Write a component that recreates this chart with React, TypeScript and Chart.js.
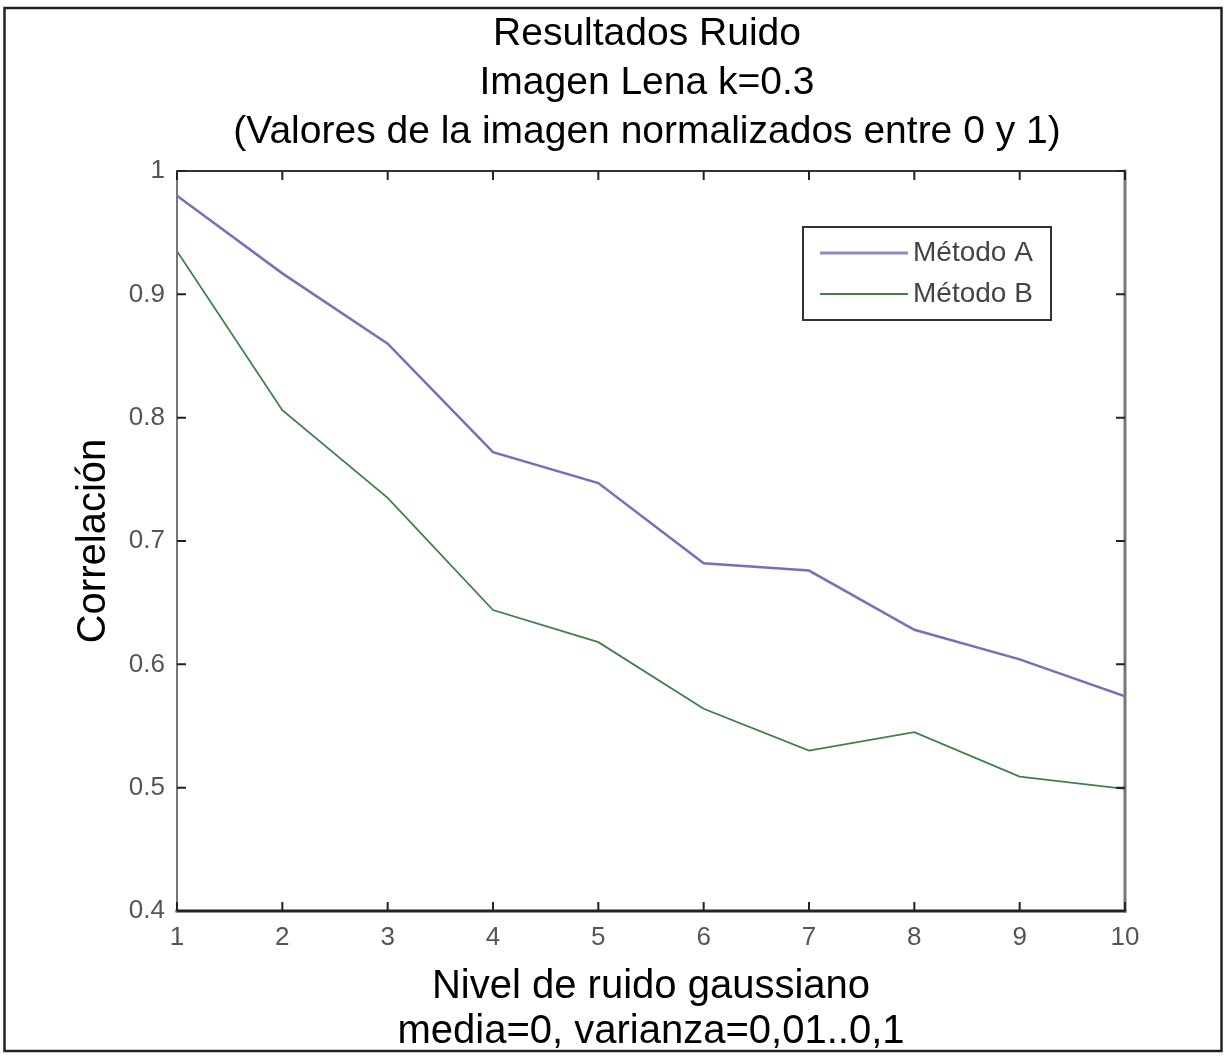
import React, { useEffect, useRef } from 'react';
import { Chart, registerables } from 'chart.js';

Chart.register(...registerables);

const noiseLevels = [1, 2, 3, 4, 5, 6, 7, 8, 9, 10];
const metodoA = [0.98, 0.917, 0.86, 0.772, 0.747, 0.682, 0.676, 0.628, 0.604, 0.574];
const metodoB = [0.935, 0.806, 0.735, 0.644, 0.618, 0.564, 0.53, 0.545, 0.509, 0.499];
const seriesNames = ['Método A', 'Método B'];
const seriesColors = ['#7272ba', '#3f7f4c'];
const legendColors = ['#8c8cc4', '#3f7f4c'];
const yTickValues = [0.4, 0.5, 0.6, 0.7, 0.8, 0.9, 1];
const xTickValues = [1, 2, 3, 4, 5, 6, 7, 8, 9, 10];
const titleLines = ['Resultados Ruido', 'Imagen Lena k=0.3', '(Valores de la imagen normalizados entre 0 y 1)'];
const xTitleLines = ['Nivel de ruido gaussiano', 'media=0, varianza=0,01..0,1'];
const yTitle = 'Correlación';

const FONT = '"Liberation Sans", Arial, Helvetica, sans-serif';

const decorPlugin = {
  id: 'matlabDecor',
  afterDraw(chart: any) {
    const ctx = chart.ctx as CanvasRenderingContext2D;
    const { left, right, top, bottom } = chart.chartArea;
    const xs = chart.scales.x;
    const ys = chart.scales.y;
    ctx.save();

    // outer figure frame
    ctx.strokeStyle = '#222';
    ctx.lineWidth = 2.5;
    ctx.strokeRect(4.5, 8, 1217, 1043);

    // title
    ctx.fillStyle = '#000';
    ctx.font = `39px ${FONT}`;
    ctx.textAlign = 'center';
    ctx.textBaseline = 'middle';
    const cx = (left + right) / 2 - 4;
    titleLines.forEach((line, i) => ctx.fillText(line, cx, 34 + i * 49));

    // axes box
    ctx.lineCap = 'square';
    ctx.lineWidth = 2;
    ctx.strokeStyle = '#333';
    ctx.beginPath();
    ctx.moveTo(left, top);
    ctx.lineTo(right, top);
    ctx.stroke();
    ctx.lineWidth = 3;
    ctx.strokeStyle = '#222';
    ctx.beginPath();
    ctx.moveTo(left, bottom);
    ctx.lineTo(right, bottom);
    ctx.stroke();
    ctx.lineWidth = 2;
    ctx.strokeStyle = '#777';
    ctx.beginPath();
    ctx.moveTo(left, top);
    ctx.lineTo(left, bottom);
    ctx.stroke();
    ctx.lineWidth = 3;
    ctx.beginPath();
    ctx.moveTo(right, top);
    ctx.lineTo(right, bottom);
    ctx.stroke();

    // inward ticks
    const tl = 9;
    ctx.lineWidth = 2;
    ctx.strokeStyle = '#222';
    ctx.lineCap = 'butt';
    xTickValues.forEach((v) => {
      const px = xs.getPixelForValue(v);
      ctx.beginPath();
      ctx.moveTo(px, bottom);
      ctx.lineTo(px, bottom - tl);
      ctx.moveTo(px, top);
      ctx.lineTo(px, top + tl);
      ctx.stroke();
    });
    yTickValues.forEach((v) => {
      const py = ys.getPixelForValue(v);
      ctx.beginPath();
      ctx.moveTo(left, py);
      ctx.lineTo(left + tl, py);
      ctx.moveTo(right, py);
      ctx.lineTo(right - tl, py);
      ctx.stroke();
    });

    // legend
    const lx = 803, ly = 227, lw = 248, lh = 93;
    ctx.fillStyle = '#fff';
    ctx.fillRect(lx, ly, lw, lh);
    ctx.strokeStyle = '#333';
    ctx.lineWidth = 2;
    ctx.strokeRect(lx, ly, lw, lh);
    ctx.font = `28px ${FONT}`;
    ctx.textAlign = 'left';
    ctx.textBaseline = 'middle';
    seriesNames.forEach((name, i) => {
      const yy = 253 + i * 41;
      ctx.strokeStyle = legendColors[i];
      ctx.lineWidth = i === 0 ? 3 : 2;
      ctx.beginPath();
      ctx.moveTo(820, yy);
      ctx.lineTo(908, yy);
      ctx.stroke();
      ctx.fillStyle = '#444';
      ctx.fillText(name, 913, yy);
    });

    ctx.restore();
  },
};

export default function App() {
  const canvasRef = useRef<HTMLCanvasElement | null>(null);

  useEffect(() => {
    const canvas = canvasRef.current;
    if (!canvas) return;
    const chart = new Chart(canvas, {
      type: 'line',
      data: {
        datasets: [
          {
            label: seriesNames[0],
            data: noiseLevels.map((x, i) => ({ x, y: metodoA[i] })),
            borderColor: seriesColors[0],
            borderWidth: 2.5,
            pointRadius: 0,
            tension: 0,
            fill: false,
          },
          {
            label: seriesNames[1],
            data: noiseLevels.map((x, i) => ({ x, y: metodoB[i] })),
            borderColor: seriesColors[1],
            borderWidth: 1.8,
            pointRadius: 0,
            tension: 0,
            fill: false,
          },
        ],
      },
      plugins: [decorPlugin],
      options: {
        responsive: false,
        animation: false,
        events: [],
        layout: { padding: { top: 171, right: 103, left: 0, bottom: 0 } },
        plugins: {
          legend: { display: false },
          title: { display: false },
          tooltip: { enabled: false },
        },
        scales: {
          x: {
            type: 'linear',
            min: 1,
            max: 10,
            afterBuildTicks(scale: any) {
              scale.ticks = xTickValues.map((v) => ({ value: v }));
            },
            afterFit(scale: any) {
              scale.height = 147;
            },
            ticks: {
              autoSkip: false,
              maxRotation: 0,
              padding: 11,
              color: '#555',
              font: { family: FONT, size: 26 },
              callback: (v: any) => String(v),
            },
            grid: { display: false, drawTicks: false },
            border: { display: false },
            title: {
              display: true,
              text: xTitleLines,
              color: '#000',
              font: { family: FONT, size: 40, lineHeight: 1.125 },
              padding: { top: 0, bottom: 4 },
            },
          },
          y: {
            type: 'linear',
            min: 0.4,
            max: 1,
            afterBuildTicks(scale: any) {
              scale.ticks = yTickValues.map((v) => ({ value: v }));
            },
            afterFit(scale: any) {
              scale.width = 177;
            },
            ticks: {
              autoSkip: false,
              padding: 12,
              color: '#555',
              font: { family: FONT, size: 26 },
              callback: (v: any) => (Number(v) === 1 ? '1' : Number(v).toFixed(1)),
            },
            grid: { display: false, drawTicks: false },
            border: { display: false },
            title: {
              display: true,
              text: yTitle,
              color: '#000',
              font: { family: FONT, size: 40, lineHeight: 1.2 },
              padding: { top: 70, bottom: 0 },
            },
          },
        },
      },
    });
    return () => chart.destroy();
  }, []);

  return (
    <div style={{ position: 'absolute', left: 0, top: 0, width: 1228, height: 1058, background: '#fff' }}>
      <canvas ref={canvasRef} width={1228} height={1058} style={{ display: 'block' }} />
    </div>
  );
}
